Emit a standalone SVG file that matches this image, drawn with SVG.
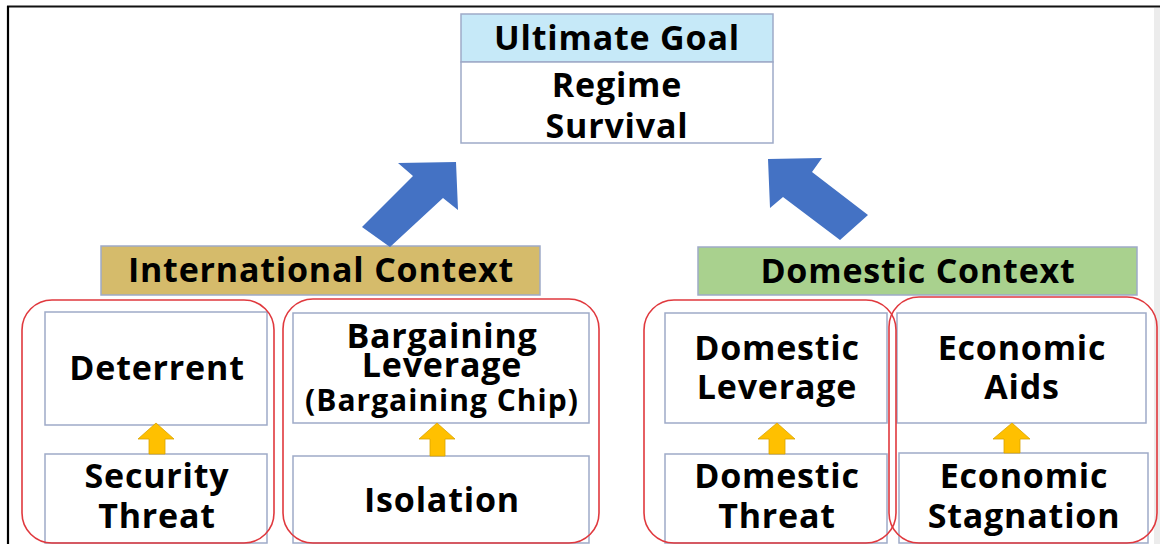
<svg xmlns="http://www.w3.org/2000/svg" width="1160" height="544" viewBox="0 0 1160 544">
<style>
.bx{fill:#ffffff;stroke:#9eaac8;stroke-width:1.5}
.grp{fill:none;stroke:#e0393e;stroke-width:1.6}
.t{font-family:"Open Sans","Noto Sans","Liberation Sans",sans-serif;font-weight:700;font-size:34px;letter-spacing:0.8px;fill:#000;text-anchor:middle}
.s{font-size:30px;letter-spacing:1px}
.blue{fill:#4472c4}
.yel{fill:#ffc000;stroke:#d9a300;stroke-width:0.8}
</style>
<rect x="0" y="0" width="1160" height="544" fill="#ffffff"/>
<rect x="1154" y="8" width="6" height="536" fill="#ececec"/>
<line x1="7" y1="6.5" x2="1160" y2="6.5" stroke="#111" stroke-width="2"/>
<line x1="8" y1="6" x2="8" y2="544" stroke="#000" stroke-width="2.2"/>

<g id="goal">
<rect x="461" y="14" width="312" height="48" fill="#c6e9f8" stroke="#9eaac8" stroke-width="1.5"/>
<text class="t" x="617" y="50">Ultimate Goal</text>
<rect class="bx" x="461" y="62" width="312" height="81"/>
<text class="t" x="617" y="97">Regime</text>
<text class="t" x="617" y="138">Survival</text>
</g>

<g id="international">
<rect x="101" y="246" width="439" height="49" fill="#d5bb6b" stroke="#9eaac8" stroke-width="1.5"/>
<text class="t" x="321" y="282">International Context</text>
</g>

<g id="domestic">
<rect x="698" y="247" width="439" height="48" fill="#a9d18e" stroke="#9eaac8" stroke-width="1.5"/>
<text class="t" x="918" y="283">Domestic Context</text>
</g>

<g id="deterrent">
<rect class="bx" x="45" y="312" width="222" height="113"/>
<text class="t" x="157" y="380">Deterrent</text>
</g>
<g id="security-threat">
<rect class="bx" x="45" y="454" width="222" height="89"/>
<text class="t" x="157" y="488">Security</text>
<text class="t" x="157" y="528">Threat</text>
</g>
<g id="bargaining">
<rect class="bx" x="293" y="313" width="296" height="110"/>
<text class="t" x="442" y="348">Bargaining</text>
<text class="t" x="442" y="377">Leverage</text>
<text class="t s" x="442" y="411">(Bargaining Chip)</text>
</g>
<g id="isolation">
<rect class="bx" x="293" y="456" width="296" height="87"/>
<text class="t" x="442" y="512">Isolation</text>
</g>
<g id="domestic-leverage">
<rect class="bx" x="665" y="313" width="222" height="110"/>
<text class="t" x="777" y="360">Domestic</text>
<text class="t" x="777" y="399">Leverage</text>
</g>
<g id="domestic-threat">
<rect class="bx" x="665" y="454" width="222" height="89"/>
<text class="t" x="777" y="488">Domestic</text>
<text class="t" x="777" y="528">Threat</text>
</g>
<g id="economic-aids">
<rect class="bx" x="897" y="313" width="249" height="110"/>
<text class="t" x="1022" y="360">Economic</text>
<text class="t" x="1022" y="399">Aids</text>
</g>
<g id="economic-stagnation">
<rect class="bx" x="899" y="453" width="249" height="90"/>
<text class="t" x="1024" y="488">Economic</text>
<text class="t" x="1024" y="528">Stagnation</text>
</g>

<g id="groups">
<rect class="grp" x="22" y="300" width="252" height="243" rx="30"/>
<rect class="grp" x="283" y="299" width="316" height="244" rx="30"/>
<rect class="grp" x="644" y="300" width="252" height="243" rx="30"/>
<rect class="grp" x="889" y="297" width="268" height="246" rx="30"/>
</g>

<g id="connectors">
<polygon class="blue" points="362,227 413,176 398,163 456,162 458,210 443,198 390,247"/>
<polygon class="blue" points="868,215 812,172 822,158 768,159 770,208 783,197 840,240"/>
<polygon class="yel" points="149,454 149,439 138,439 156,423 174,439 165,439 165,454"/>
<polygon class="yel" points="430,456 430,439 419,439 437,423 455,439 445,439 445,456"/>
<polygon class="yel" points="769,454 769,439 758,439 777,423 795,439 785,439 785,454"/>
<polygon class="yel" points="1004,453 1004,439 993,439 1012,423 1030,439 1020,439 1020,453"/>
</g>
</svg>
